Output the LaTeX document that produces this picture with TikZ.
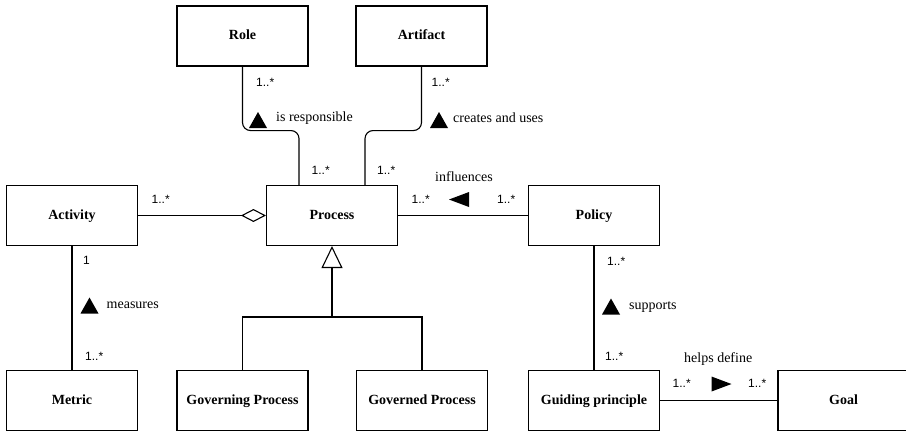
\documentclass[tikz,border=0pt]{standalone}
\usepackage{fontspec}
\setmainfont{Liberation Serif}
\newfontfamily\multfont{Liberation Sans}
\usetikzlibrary{arrows.meta}
\begin{document}
\begin{tikzpicture}[x=1pt,y=-1pt,
  classbox/.style={draw, line width=1.1pt, minimum width=131pt, minimum height=60pt,
    inner sep=0pt, text height=10pt, text depth=3pt,
    font=\fontsize{14}{16}\selectfont\bfseries},
  link/.style={line width=1.1pt},
  mult/.style={anchor=west, inner sep=0pt, font=\multfont\fontsize{12}{13}\selectfont},
  assoc/.style={anchor=west, inner sep=0pt, font=\fontsize{14}{16}\selectfont},
  uptri/.pic={\fill (-9,8) -- (9,8) -- (0,-8) -- cycle;},
  lefttri/.pic={\fill (10,-7.5) -- (10,7.5) -- (-10,0) -- cycle;},
  righttri/.pic={\fill (-10,-7.5) -- (-10,7.5) -- (10,0) -- cycle;}]
\useasboundingbox (0,0) rectangle (906,431);
\clip (0,0) rectangle (906,431);

% classes
\node[classbox] (role)      at (242.5,36)   {Role};
\node[classbox] (artifact)  at (421.5,36)   {Artifact};
\node[classbox] (activity)  at (72,215.5)   {Activity};
\node[classbox] (process)   at (332,215.5)  {Process};
\node[classbox] (policy)    at (594,215.5)  {Policy};
\node[classbox] (metric)    at (72,400.5)   {Metric};
\node[classbox] (governing) at (242.5,400.5){Governing Process};
\node[classbox] (governed)  at (422,400.5)  {Governed Process};
\node[classbox] (guiding)   at (594,400.5)  {Guiding principle};
\node[classbox] (goal)      at (843.5,400.5){Goal};

% associations into Process
\draw[link, rounded corners=8pt] (role.south) -- ++(0,64) -| ([xshift=-33pt]process.north);
\draw[link, rounded corners=8pt] (artifact.south) -- ++(0,64) -| ([xshift=33pt]process.north);
\draw[link, -{Diamond[open, length=25pt, width=13pt]}] (activity.east) -- (process.west);
\draw[link] (process.east) -- (policy.west);

% specialisation of Process
\coordinate (genjoin) at (332,317);
\draw[link] (governing.north) |- (genjoin) -| (governed.north);
\draw[link, -{Triangle[open, length=22pt, width=21pt]}] (genjoin) -- (process.south);

% remaining associations
\draw[link] (activity.south) -- (metric.north);
\draw[link] (policy.south) -- (guiding.north);
\draw[link] (guiding.east) -- (goal.west);

% Role -- Process
\node[mult]  (m1) at (256,82)    {1..*};
\pic at (258,120) {uptri};
\node[assoc] (a1) at (276,118)   {is responsible};
\node[mult]  (m2) at (311.5,170) {1..*};

% Artifact -- Process
\node[mult]  (m3) at (431.5,82)  {1..*};
\pic at (439,120) {uptri};
\node[assoc] (a2) at (453,118)   {creates and uses};
\node[mult]  (m4) at (377,170)   {1..*};

% Activity -- Process
\node[mult]  (m5) at (151.5,199) {1..*};

% Process -- Policy
\node[assoc] (a3) at (435,176.5) {influences};
\pic at (459,199.5) {lefttri};
\node[mult]  (m6) at (411.5,199) {1..*};
\node[mult]  (m7) at (497,199)   {1..*};

% Activity -- Metric
\node[mult]  (m8) at (83,260)    {1};
\pic at (89.5,305.5) {uptri};
\node[assoc] (a4) at (106.5,305) {measures};
\node[mult]  (m9) at (85,356)    {1..*};

% Policy -- Guiding principle
\node[mult]  (m10) at (607,261)  {1..*};
\pic at (611,306.5) {uptri};
\node[assoc] (a5) at (629,307.5) {supports};
\node[mult]  (m11) at (605,356)  {1..*};

% Guiding principle -- Goal
\node[assoc] (a6) at (684,359)   {helps define};
\pic at (721.5,384) {righttri};
\node[mult]  (m12) at (672.5,383){1..*};
\node[mult]  (m13) at (748,383)  {1..*};
\end{tikzpicture}
\end{document}
